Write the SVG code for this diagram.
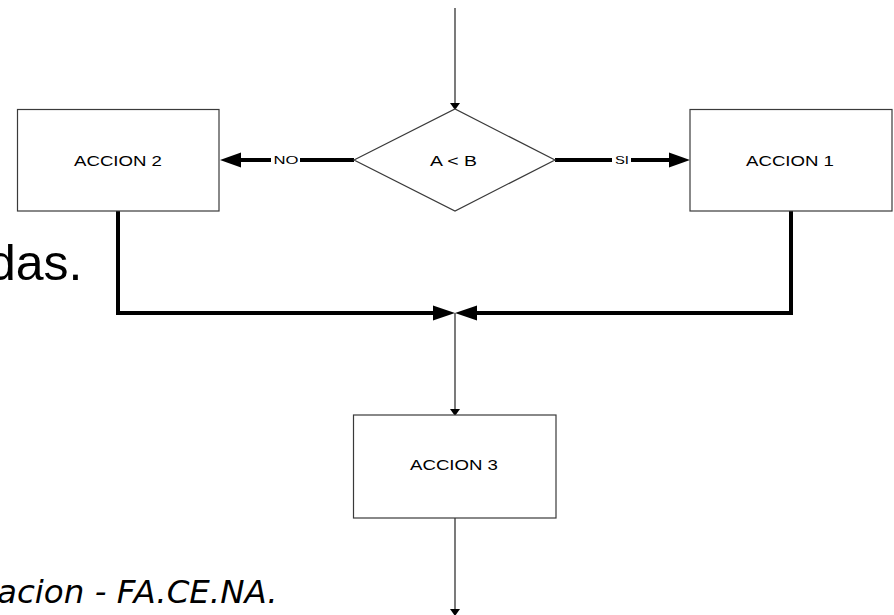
<svg xmlns="http://www.w3.org/2000/svg" width="894" height="615" viewBox="0 0 894 615">
<defs>
<style>
.box{fill:#fff;stroke:#3a3a3a;stroke-width:1.2}
.lbl{font-family:"Liberation Sans",Arial,sans-serif;font-size:15px;fill:#000;text-anchor:middle}
.small{font-family:"Liberation Sans",Arial,sans-serif;font-size:11px;fill:#000;text-anchor:middle}
.thin{stroke:#333;stroke-width:1.3;fill:none}
.thick{stroke:#000;stroke-width:4;fill:none}
.head{fill:#000}
.bg{font-family:"Liberation Sans",Arial,sans-serif;fill:#000}
</style>
</defs>
<rect width="894" height="615" fill="#fff"/>
<text class="bg" x="-12" y="279.5" font-size="50">das.</text>
<text x="-3" y="603" font-family="DejaVu Sans,Verdana,sans-serif" font-style="italic" font-size="32.5" fill="#000">acion - FA.CE.NA.</text>
<g id="connectors">
<line class="thin" x1="455" y1="8" x2="455" y2="104"/>
<polygon class="head" points="450,103 460,103 455,110"/>
<line class="thick" x1="354" y1="160" x2="236" y2="160"/>
<polygon class="head" points="241,152.5 241,167.5 220,160"/>
<rect x="271" y="154" width="29" height="12" fill="#fff"/>
<text class="small" x="286" y="164" textLength="25" lengthAdjust="spacingAndGlyphs">NO</text>
<line class="thick" x1="555" y1="160" x2="673" y2="160"/>
<polygon class="head" points="669,152.5 669,167.5 690,160"/>
<rect x="612" y="154" width="19" height="12" fill="#fff"/>
<text class="small" x="622" y="164" textLength="14" lengthAdjust="spacingAndGlyphs">SI</text>
<polyline class="thick" points="118,211 118,313 438,313"/>
<polygon class="head" points="433,305.5 433,320.5 455,313"/>
<polyline class="thick" points="791,211 791,313 472,313"/>
<polygon class="head" points="477,305.5 477,320.5 455,313"/>
<line class="thin" x1="455" y1="313" x2="455" y2="410"/>
<polygon class="head" points="450,409 460,409 455,416"/>
<line class="thin" x1="455" y1="518" x2="455" y2="612"/>
<polygon class="head" points="450,609 460,609 455,616"/>
</g>
<g id="decision">
<polygon class="box" points="354,160 455,109 555,160 455,211"/>
<text class="lbl" x="453.5" y="165.5" textLength="47" lengthAdjust="spacingAndGlyphs">A &lt; B</text>
</g>
<g id="accion2">
<rect class="box" x="17.5" y="109.5" width="201.5" height="101.5"/>
<text class="lbl" x="118" y="165.5" textLength="88" lengthAdjust="spacingAndGlyphs">ACCION 2</text>
</g>
<g id="accion1">
<rect class="box" x="690" y="109.5" width="202" height="101.5"/>
<text class="lbl" x="790" y="165.5" textLength="88" lengthAdjust="spacingAndGlyphs">ACCION 1</text>
</g>
<g id="accion3">
<rect class="box" x="353.5" y="415" width="202.5" height="103"/>
<text class="lbl" x="454" y="470" textLength="88" lengthAdjust="spacingAndGlyphs">ACCION 3</text>
</g>
</svg>
